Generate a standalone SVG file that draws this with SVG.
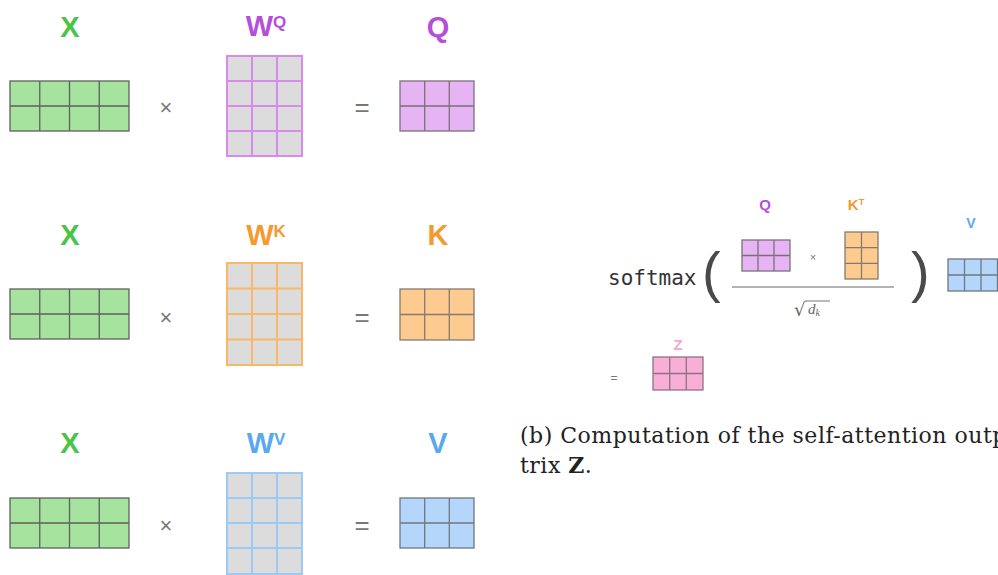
<svg xmlns="http://www.w3.org/2000/svg" width="998" height="575" viewBox="0 0 998 575">
<style>
.lbl{font-family:"Liberation Sans",Arial,sans-serif;font-weight:bold;text-anchor:middle}
.op{font-family:"Liberation Sans",Arial,sans-serif;fill:#777;text-anchor:middle;dominant-baseline:central}
.gx{fill:#a6e39f;stroke:#5e625e;stroke-width:1.3}
.gl{fill:none;stroke:#5e625e;stroke-width:1.3}
.wq{fill:#dcdcdc;stroke:#d68ce8;stroke-width:2}
.wql{fill:none;stroke:#d68ce8;stroke-width:2}
.wk{fill:#dcdcdc;stroke:#f8b867;stroke-width:2}
.wkl{fill:none;stroke:#f8b867;stroke-width:2}
.wv{fill:#dcdcdc;stroke:#9ccaf5;stroke-width:2}
.wvl{fill:none;stroke:#9ccaf5;stroke-width:2}
.mq{fill:#e6b4f2;stroke:#7a707c;stroke-width:1.3}
.mk{fill:#fdca90;stroke:#857a6d;stroke-width:1.3}
.mv{fill:#b4d6fa;stroke:#6f7780;stroke-width:1.3}
.mz{fill:#f8aed6;stroke:#8c7483;stroke-width:1.3}
.ln{fill:none;stroke-width:1.3}
.cap{font-family:"DejaVu Serif","Liberation Serif",serif;font-size:22px;fill:#222;letter-spacing:0.5px}
</style>
<defs>
<g id="xmat">
<rect class="gx" x="10" y="81" width="119" height="50"/>
<path class="gl" d="M39.75 81V131M69.5 81V131M99.25 81V131M10 106H129"/>
</g>
</defs>

<g id="row-q">
<g id="node-x1"><text class="lbl" x="70" y="37" font-size="29" fill="#4cc44a">X</text><use href="#xmat"/></g>
<text class="op" x="166" y="107" font-size="22">×</text>
<g id="node-wq"><text class="lbl" x="266" y="36" font-size="29" fill="#b54fd9">W<tspan font-size="17" dy="-8">Q</tspan></text>
<rect class="wq" x="227" y="56" width="75" height="100"/>
<path class="wql" d="M252 56V156M277 56V156M227 81H302M227 106H302M227 131H302"/></g>
<text class="op" x="362" y="107" font-size="26">=</text>
<g id="node-q"><text class="lbl" x="438" y="37" font-size="29" fill="#b54fd9">Q</text>
<rect class="mq" x="400" y="81" width="74" height="50"/>
<path class="ln" stroke="#7a707c" d="M424.7 81V131M449.3 81V131M400 106H474"/></g>
</g>

<g id="row-k" transform="translate(0,208)">
<g id="node-x2"><text class="lbl" x="70" y="37" font-size="29" fill="#4cc44a">X</text><use href="#xmat"/></g>
<text class="op" x="166" y="109" font-size="22">×</text>
<g id="node-wk"><text class="lbl" x="266" y="37" font-size="29" fill="#f49a2e">W<tspan font-size="17" dy="-8">K</tspan></text>
<rect class="wk" x="227" y="55" width="75" height="102"/>
<path class="wkl" d="M252 55V157M277 55V157M227 80.5H302M227 106H302M227 131.5H302"/></g>
<text class="op" x="362" y="109" font-size="26">=</text>
<g id="node-k"><text class="lbl" x="438" y="37" font-size="29" fill="#f49a2e">K</text>
<rect class="mk" x="400" y="81" width="74" height="51"/>
<path class="ln" stroke="#857a6d" d="M424.7 81V132M449.3 81V132M400 106.5H474"/></g>
</g>

<g id="row-v" transform="translate(0,417)">
<g id="node-x3"><text class="lbl" x="70" y="36" font-size="29" fill="#4cc44a">X</text><use href="#xmat"/></g>
<text class="op" x="166" y="108" font-size="22">×</text>
<g id="node-wv"><text class="lbl" x="266" y="36" font-size="29" fill="#5aa9ef">W<tspan font-size="17" dy="-8">V</tspan></text>
<rect class="wv" x="227" y="56" width="75" height="101"/>
<path class="wvl" d="M252 56V157M277 56V157M227 81H302M227 106H302M227 131H302"/></g>
<text class="op" x="362" y="108" font-size="26">=</text>
<g id="node-v"><text class="lbl" x="438" y="36" font-size="29" fill="#5aa9ef">V</text>
<rect class="mv" x="400" y="81" width="74" height="50"/>
<path class="ln" stroke="#6f7780" d="M424.7 81V131M449.3 81V131M400 106H474"/></g>
</g>

<g id="formula">
<text x="608" y="285" font-family="'DejaVu Sans Mono','Liberation Mono',monospace" font-size="21" fill="#333">softmax</text>
<text x="702" y="291" font-family="'Liberation Sans',Arial,sans-serif" font-size="56" fill="#4a4a4a">(</text>
<text x="911" y="291" font-family="'Liberation Sans',Arial,sans-serif" font-size="56" fill="#4a4a4a">)</text>
<g id="node-fq"><text class="lbl" x="765" y="210" font-size="15" fill="#b54fd9">Q</text>
<rect class="mq" x="742" y="240" width="48" height="31"/>
<path class="ln" stroke="#7a707c" d="M758 240V271M774 240V271M742 255.5H790"/></g>
<text class="op" x="813" y="257" font-size="11">×</text>
<g id="node-fkt"><text class="lbl" x="856" y="210" font-size="15" fill="#f49a2e">K<tspan font-size="9" dy="-5">T</tspan></text>
<rect class="mk" x="845" y="232" width="33" height="47"/>
<path class="ln" stroke="#857a6d" d="M861.5 232V279M845 247.7H878M845 263.3H878"/></g>
<line x1="732" y1="287" x2="894" y2="287" stroke="#9a9a9a" stroke-width="1.5"/>
<g id="sqrt-dk" fill="#666">
<text x="794" y="316" font-family="'DejaVu Serif','Liberation Serif',serif" font-size="18">√</text>
<line x1="805" y1="301" x2="830" y2="301" stroke="#666" stroke-width="0.9"/>
<text x="808" y="314" font-family="'Liberation Serif',serif" font-style="italic" font-size="15">d<tspan font-size="10" dy="2">k</tspan></text>
</g>
<g id="node-fv"><text class="lbl" x="971" y="228" font-size="14" fill="#5aa9ef">V</text>
<rect class="mv" x="948" y="259" width="49.5" height="32"/>
<path class="ln" stroke="#6f7780" d="M964.5 259V291M981 259V291M948 275H997.5"/></g>
<text class="op" x="614" y="378" font-size="12">=</text>
<g id="node-z"><text class="lbl" x="678" y="350" font-size="15" fill="#f5a6cd">Z</text>
<rect class="mz" x="653" y="357" width="50" height="33"/>
<path class="ln" stroke="#8c7483" d="M669.7 357V390M686.3 357V390M653 373.5H703"/></g>
</g>

<g id="caption">
<text class="cap" x="520" y="443">(b) Computation of the self-attention outp</text>
<text class="cap" x="520" y="473">trix <tspan font-weight="bold">Z</tspan>.</text>
</g>
</svg>
